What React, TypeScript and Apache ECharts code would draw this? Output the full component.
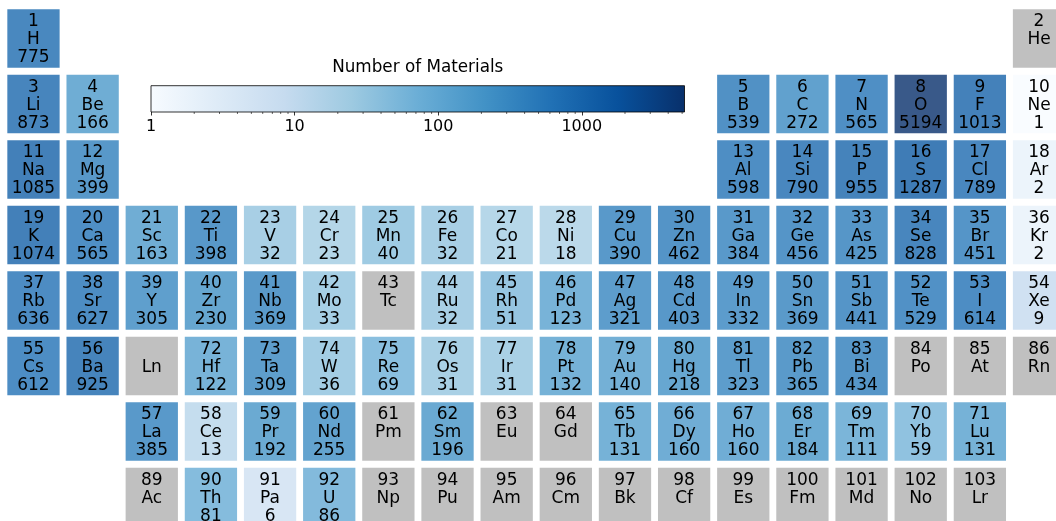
import { useEffect, useRef } from "react";
import * as echarts from "echarts";

const FONT = "DejaVu Sans";

// [atomic number, symbol, number of materials (null = none)]
const elements: [number, string, number | null][] = [
  [1, "H", 775], [2, "He", null],
  [3, "Li", 873], [4, "Be", 166], [5, "B", 539], [6, "C", 272], [7, "N", 565], [8, "O", 5194], [9, "F", 1013], [10, "Ne", 1],
  [11, "Na", 1085], [12, "Mg", 399], [13, "Al", 598], [14, "Si", 790], [15, "P", 955], [16, "S", 1287], [17, "Cl", 789], [18, "Ar", 2],
  [19, "K", 1074], [20, "Ca", 565], [21, "Sc", 163], [22, "Ti", 398], [23, "V", 32], [24, "Cr", 23], [25, "Mn", 40], [26, "Fe", 32],
  [27, "Co", 21], [28, "Ni", 18], [29, "Cu", 390], [30, "Zn", 462], [31, "Ga", 384], [32, "Ge", 456], [33, "As", 425], [34, "Se", 828],
  [35, "Br", 451], [36, "Kr", 2],
  [37, "Rb", 636], [38, "Sr", 627], [39, "Y", 305], [40, "Zr", 230], [41, "Nb", 369], [42, "Mo", 33], [43, "Tc", null], [44, "Ru", 32],
  [45, "Rh", 51], [46, "Pd", 123], [47, "Ag", 321], [48, "Cd", 403], [49, "In", 332], [50, "Sn", 369], [51, "Sb", 441], [52, "Te", 529],
  [53, "I", 614], [54, "Xe", 9],
  [55, "Cs", 612], [56, "Ba", 925], [72, "Hf", 122], [73, "Ta", 309], [74, "W", 36], [75, "Re", 69], [76, "Os", 31], [77, "Ir", 31],
  [78, "Pt", 132], [79, "Au", 140], [80, "Hg", 218], [81, "Tl", 323], [82, "Pb", 365], [83, "Bi", 434], [84, "Po", null], [85, "At", null],
  [86, "Rn", null],
  [57, "La", 385], [58, "Ce", 13], [59, "Pr", 192], [60, "Nd", 255], [61, "Pm", null], [62, "Sm", 196], [63, "Eu", null], [64, "Gd", null],
  [65, "Tb", 131], [66, "Dy", 160], [67, "Ho", 160], [68, "Er", 184], [69, "Tm", 111], [70, "Yb", 59], [71, "Lu", 131],
  [89, "Ac", null], [90, "Th", 81], [91, "Pa", 6], [92, "U", 86], [93, "Np", null], [94, "Pu", null], [95, "Am", null], [96, "Cm", null],
  [97, "Bk", null], [98, "Cf", null], [99, "Es", null], [100, "Fm", null], [101, "Md", null], [102, "No", null], [103, "Lr", null],
];

// placeholder cell for the lanthanide series in period 6
const lanthanidePlaceholder = { symbol: "Ln", column: 3, period: 6 };

const colorbarTitle = "Number of Materials";
const colorbarMin = 1;
const colorbarMax = 5194;
const colorbarTicks = [1, 10, 100, 1000];
const colorbarMinorTicks = [2, 3, 4, 5, 6, 7, 8, 9, 20, 30, 40, 50, 60, 70, 80, 90, 200, 300, 400, 500, 600, 700, 800, 900, 2000, 3000, 4000, 5000];

// matplotlib "Blues"
const BLUES = ["#f7fbff", "#deebf7", "#c6dbef", "#9ecae1", "#6baed6", "#4292c6", "#2171b5", "#08519c", "#08306b"];
const MISSING = "#c0c0c0";
const CELL_ALPHA = 0.8;

// table position (column 1-18, row 1-8) from the atomic number
function placeOf(z: number): [number, number] {
  if (z === 1) return [1, 1];
  if (z === 2) return [18, 1];
  if (z <= 4) return [z - 2, 2];
  if (z <= 10) return [z + 8, 2];
  if (z <= 12) return [z - 10, 3];
  if (z <= 18) return [z, 3];
  if (z <= 36) return [z - 18, 4];
  if (z <= 54) return [z - 36, 5];
  if (z <= 56) return [z - 54, 6];
  if (z <= 71) return [z - 54, 7];
  if (z <= 86) return [z - 68, 6];
  return [z - 86, 8];
}

function hexToRgb(h: string): number[] {
  return [1, 3, 5].map((i) => parseInt(h.slice(i, i + 2), 16));
}

function blues(t: number): number[] {
  const x = Math.min(1, Math.max(0, t)) * (BLUES.length - 1);
  const i = Math.min(BLUES.length - 2, Math.floor(x));
  const f = x - i;
  const a = hexToRgb(BLUES[i]);
  const b = hexToRgb(BLUES[i + 1]);
  return a.map((v, k) => v + (b[k] - v) * f);
}

// log-scaled colour, laid over white at CELL_ALPHA
function cellColor(v: number | null): string {
  if (v == null) return MISSING;
  const t = (Math.log10(v) - Math.log10(colorbarMin)) / (Math.log10(colorbarMax) - Math.log10(colorbarMin));
  const c = blues(t).map((ch) => Math.round(ch * CELL_ALPHA + 255 * (1 - CELL_ALPHA)));
  return `rgb(${c[0]},${c[1]},${c[2]})`;
}

type Cell = { z: number | null; symbol: string; count: number | null; column: number; period: number };

const cells: Cell[] = [
  ...elements.map(([z, symbol, count]) => {
    const [column, period] = placeOf(z);
    return { z, symbol, count, column, period };
  }),
  { z: null, symbol: lanthanidePlaceholder.symbol, count: null, column: lanthanidePlaceholder.column, period: lanthanidePlaceholder.period },
];

// table geometry: cell pitch and gaps in pixels
const PITCH_X = 59.15;
const PITCH_Y = 65.5;
const GAP_X = 6.85;
const GAP_Y = 7;
const TABLE_LEFT = 3.9;
const TABLE_TOP = 5.8;
const WIDTH = 1056;
const HEIGHT = 521;
const LINE_H = 18;

export default function App() {
  const ref = useRef<HTMLDivElement>(null);

  useEffect(() => {
    if (!ref.current) return;
    const chart = echarts.init(ref.current, null, { renderer: "svg" });
    const logMax = Math.log10(colorbarMax);
    // the table runs past the right and bottom edges; the visible part sets the axis extents
    const gridW = WIDTH - TABLE_LEFT;
    const gridH = HEIGHT - TABLE_TOP;

    chart.setOption({
      animation: false,
      grid: [
        { left: TABLE_LEFT, top: TABLE_TOP, width: gridW, height: gridH },
        { left: 151, top: 85.7, width: 533.5, height: 26.3 },
      ],
      xAxis: [
        { type: "value", gridIndex: 0, min: 0, max: gridW / PITCH_X, show: false },
        {
          type: "value",
          gridIndex: 1,
          min: 0,
          max: logMax,
          interval: 1,
          splitLine: { show: false },
          axisLine: { show: false },
          axisTick: {
            show: true,
            length: 3.5,
            lineStyle: { color: "#000", width: 0.8 },
            customValues: colorbarTicks.map((v) => Math.log10(v)),
          },
          axisLabel: {
            show: true,
            margin: 5,
            color: "#000",
            fontSize: 16,
            fontFamily: FONT,
            customValues: colorbarTicks.map((v) => Math.log10(v)),
            formatter: (v: number) => String(Math.round(Math.pow(10, v))),
          },
        },
      ],
      yAxis: [
        { type: "value", gridIndex: 0, min: 0, max: gridH / PITCH_Y, inverse: true, show: false },
        { type: "value", gridIndex: 1, min: 0, max: 1, show: false },
      ],
      graphic: [
        {
          type: "text",
          x: 417.75,
          y: 66,
          style: {
            text: colorbarTitle,
            fill: "#000",
            font: `16.8px "${FONT}"`,
            textAlign: "center",
            textVerticalAlign: "middle",
          },
        },
      ],
      series: [
        {
          type: "custom",
          xAxisIndex: 0,
          yAxisIndex: 0,
          clip: false,
          encode: { x: 0, y: 1 },
          data: cells.map((c) => [c.column - 1, c.period - 1]),
          renderItem: (params: any, api: any) => {
            const c = cells[params.dataIndex];
            const p = api.coord([api.value(0), api.value(1)]);
            const q = api.coord([api.value(0) + 1, api.value(1) + 1]);
            const x = p[0] + GAP_X / 2;
            const y = p[1] + GAP_Y / 2;
            const w = q[0] - p[0] - GAP_X;
            const h = q[1] - p[1] - GAP_Y;
            const cx = x + w / 2;
            const cy = y + h / 2;
            const lines =
              c.z == null ? [c.symbol] : c.count == null ? [String(c.z), c.symbol] : [String(c.z), c.symbol, String(c.count)];
            const top = c.z == null ? cy - LINE_H / 2 : cy - LINE_H * 1.5 - 0.2;
            return {
              type: "group",
              children: [
                { type: "rect", shape: { x, y, width: w, height: h }, style: { fill: cellColor(c.count) } },
                {
                  type: "text",
                  style: {
                    text: lines.join("\n"),
                    x: cx,
                    y: top,
                    fill: "#000",
                    font: `17px "${FONT}"`,
                    lineHeight: LINE_H,
                    align: "center",
                    verticalAlign: "top",
                    textAlign: "center",
                    textVerticalAlign: "top",
                  },
                },
              ],
            };
          },
        },
        {
          type: "custom",
          xAxisIndex: 1,
          yAxisIndex: 1,
          data: [[0, 0]],
          renderItem: (_params: any, api: any) => {
            const a = api.coord([0, 0]);
            const b = api.coord([logMax, 1]);
            return {
              type: "rect",
              shape: { x: a[0], y: b[1], width: b[0] - a[0], height: a[1] - b[1] },
              style: {
                fill: new echarts.graphic.LinearGradient(
                  0, 0, 1, 0,
                  BLUES.map((color, i) => ({ offset: i / (BLUES.length - 1), color }))
                ),
                stroke: "#000",
                lineWidth: 0.8,
              },
            };
          },
        },
        {
          type: "custom",
          xAxisIndex: 1,
          yAxisIndex: 1,
          data: colorbarMinorTicks.map((v) => [Math.log10(v), 0]),
          renderItem: (_params: any, api: any) => {
            const p = api.coord([api.value(0), api.value(1)]);
            return {
              type: "line",
              shape: { x1: p[0], y1: p[1], x2: p[0], y2: p[1] + 2 },
              style: { stroke: "#000", lineWidth: 0.6 },
            };
          },
        },
      ],
    });
    return () => chart.dispose();
  }, []);

  return <div ref={ref} style={{ position: "fixed", left: 0, top: 0, width: WIDTH, height: HEIGHT }} />;
}
